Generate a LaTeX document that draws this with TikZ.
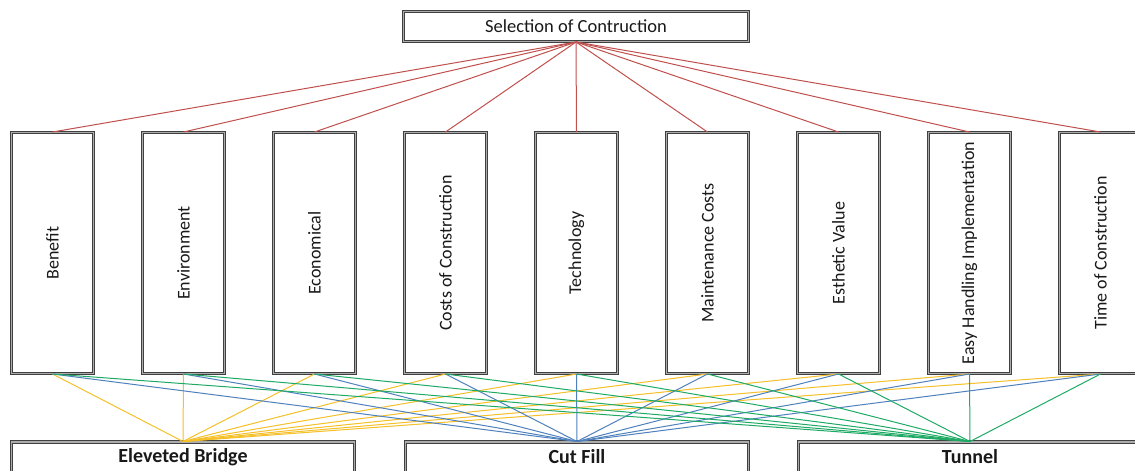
\documentclass[tikz,border=0pt]{standalone}
\usepackage{fontspec}
\setmainfont{Carlito}
\definecolor{lred}{RGB}{192,80,77}
\definecolor{lyel}{RGB}{245,192,40}
\definecolor{lblue}{RGB}{79,129,189}
\definecolor{lgreen}{RGB}{30,170,100}
\definecolor{txt}{RGB}{25,25,25}
\begin{document}
\begin{tikzpicture}[x=1pt,y=-1pt,
  box/.style={draw=black!75, line width=1pt, double=gray!65, double distance=1.5pt, fill=white, inner sep=0pt, rectangle},
  goalbox/.style={box, minimum width=345pt, minimum height=30pt, font=\fontsize{18.5}{20}\selectfont, text=txt},
  critbox/.style={box, minimum width=82pt, minimum height=241pt},
  crittext/.style={rotate=90, font=\fontsize{18}{20}\selectfont, text=txt, inner sep=0pt},
  altbox/.style={box, minimum width=343pt, minimum height=34pt},
  alttext/.style={font=\fontsize{20}{22}\selectfont\bfseries, text=txt, inner sep=0pt},
  redline/.style={lred, line width=1pt},
  yelline/.style={lyel, line width=1pt},
  blueline/.style={lblue, line width=1pt},
  greenline/.style={lgreen, line width=1pt}
]
\useasboundingbox (0,0) rectangle (1135,471);
\fill[white] (0,0) rectangle (1135,471);

% goal
\node[goalbox] (goal) at (576,26.5) {Selection of Contruction};

% criteria boxes
\foreach \i/\name/\lab in {0/c1/Benefit,1/c2/Environment,2/c3/Economical,3/c4/Costs of Construction,4/c5/Technology,5/c6/Maintenance Costs,6/c7/Esthetic Value,7/c8/Easy Handling Implementation,8/c9/Time of Construction}{
  \node[critbox] (\name) at ({52.5+131*\i},253) {};
  \node[crittext] (\name t) at (\name.center) {\lab};
}

% alternatives
\node[altbox] (a1) at (183,459) {};
\node[alttext] (a1t) at (183,457) {Eleveted Bridge};
\node[altbox] (a2) at (577,459) {};
\node[alttext] (a2t) at (577,457) {Cut Fill};
\node[altbox] (a3) at (970,459) {};
\node[alttext] (a3t) at (970,457) {Tunnel};

% connectors goal -> criteria
\foreach \c in {c1,c2,c3,c4,c5,c6,c7,c8,c9}{
  \draw[redline] (goal.south) -- (\c.north);
}
% criteria -> alternatives
\foreach \c in {c1,c2,c3,c4,c5,c6,c7,c8,c9}{
  \draw[yelline] (\c.south) -- (a1.north);
}
\foreach \c in {c1,c2,c3,c4,c5,c6,c7,c8,c9}{
  \draw[blueline] (\c.south) -- (a2.north);
}
\foreach \c in {c1,c2,c3,c4,c5,c6,c7,c8,c9}{
  \draw[greenline] (\c.south) -- (a3.north);
}
\end{tikzpicture}
\end{document}
